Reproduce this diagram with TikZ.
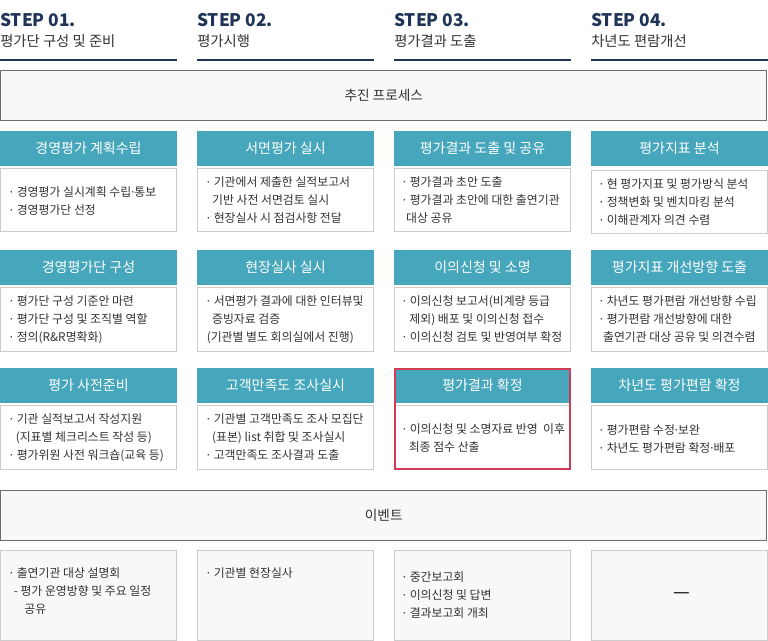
\documentclass[tikz,border=0pt]{standalone}
\usepackage{fontspec}
\setmainfont{Noto Sans CJK KR}
\newfontfamily\latf{Noto Sans}
\definecolor{navy}{HTML}{1F3457}
\definecolor{hdteal}{HTML}{45A6BC}
\definecolor{txt}{HTML}{333333}
\definecolor{boxgray}{HTML}{6E6E6E}
\definecolor{boxfill}{HTML}{F8F8F8}
\definecolor{bodyline}{HTML}{CCCCCC}
\definecolor{hlred}{HTML}{D13B53}
\newcommand\bu{\makebox[5.25pt][l]{\latf ·}}
\newcommand\md{{\latf ·}}
\newcommand\ind[1]{\hspace*{#1pt}}
\begin{document}
\begin{tikzpicture}[x=0.75pt,y=-0.75pt,
  steptitle/.style={anchor=base west, inner sep=0pt, text=navy, font=\fontsize{13}{16}\selectfont\bfseries},
  stepsub/.style={anchor=base west, inner sep=0pt, text=txt, font=\fontsize{10.75}{12}\selectfont},
  stepline/.style={draw=navy, line width=1.5pt},
  bigbox/.style={draw=boxgray, fill=boxfill, line width=0.75pt, minimum width=574.5pt, text=txt, font=\fontsize{10.25}{12}\selectfont},
  hdr/.style={fill=hdteal, text=white, minimum width=132.75pt, minimum height=26.25pt, inner sep=0pt, font=\fontsize{10.5}{12}\selectfont},
  bodybox/.style={draw=bodyline, fill=white, line width=0.75pt, minimum width=132pt, inner sep=0pt},
  evbox/.style={draw=bodyline, fill=boxfill, line width=0.75pt, minimum width=132pt, minimum height=67.125pt, inner sep=0pt},
  btext/.style={anchor=west, align=left, inner sep=0pt, text=txt, font=\fontsize{8.9}{13.5}\selectfont},
  hl/.style={draw=hlred, line width=1.5pt}
]
\useasboundingbox (0,0) rectangle (768,641);

% step headings
\node[steptitle] (s1) at (0,26.5) {STEP 01.};
\node[steptitle] (s2) at (197,26.5) {STEP 02.};
\node[steptitle] (s3) at (394,26.5) {STEP 03.};
\node[steptitle] (s4) at (591,26.5) {STEP 04.};
\node[stepsub] (t1) at (0,47) {평가단 구성 및 준비};
\node[stepsub] (t2) at (197,47) {평가시행};
\node[stepsub] (t3) at (394,47) {평가결과 도출};
\node[stepsub] (t4) at (591,47) {차년도 편람개선};
\draw[stepline] (0,60) -- (177,60);
\draw[stepline] (197,60) -- (374,60);
\draw[stepline] (394,60) -- (571,60);
\draw[stepline] (591,60) -- (768,60);

% process box
\node[bigbox, minimum height=37.125pt] (proc) at (383.75,95.75) {추진 프로세스};

% headers
\node[hdr] (h11) at (88.5,148.5) {경영평가 계획수립};
\node[hdr] (h21) at (285.5,148.5) {서면평가 실시};
\node[hdr] (h31) at (482.5,148.5) {평가결과 도출 및 공유};
\node[hdr] (h41) at (679.5,148.5) {평가지표 분석};
\node[hdr] (h12) at (88.5,267.5) {경영평가단 구성};
\node[hdr] (h22) at (285.5,267.5) {현장실사 실시};
\node[hdr] (h32) at (482.5,267.5) {이의신청 및 소명};
\node[hdr] (h42) at (679.5,267.5) {평가지표 개선방향 도출};
\node[hdr] (h13) at (88.5,385.5) {평가 사전준비};
\node[hdr] (h23) at (285.5,385.5) {고객만족도 조사실시};
\node[hdr] (h33) at (482.5,385.5) {평가결과 확정};
\node[hdr] (h43) at (679.5,385.5) {차년도 평가편람 확정};

% bodies
\node[bodybox, minimum height=47.25pt] (b11) at (88.5,200.5) {};
\node[bodybox, minimum height=47.25pt] (b21) at (285.5,200.5) {};
\node[bodybox, minimum height=47.25pt] (b31) at (482.5,200.5) {};
\node[bodybox, minimum height=47.25pt] (b41) at (679.5,202.5) {};
\node[bodybox, minimum height=48pt] (b12) at (88.5,320) {};
\node[bodybox, minimum height=48pt] (b22) at (285.5,320) {};
\node[bodybox, minimum height=48pt] (b32) at (482.5,320) {};
\node[bodybox, minimum height=48pt] (b42) at (679.5,320) {};
\node[bodybox, minimum height=48pt] (b13) at (88.5,438) {};
\node[bodybox, minimum height=48pt] (b23) at (285.5,438) {};
\node[bodybox, minimum height=48pt] (b33) at (482.5,438) {};
\node[bodybox, minimum height=48pt] (b43) at (679.5,438) {};

\node[btext] (x11) at (9.5,201.5) {\bu 경영평가 실시계획 수립\md 통보\\\bu 경영평가단 선정};
\node[btext] (x21) at (206.5,200) {\bu 기관에서 제출한 실적보고서\\\ind{4}기반 사전 서면검토 실시\\\bu 현장실사 시 점검사항 전달};
\node[btext] (x31) at (402.5,200) {\bu 평가결과 초안 도출\\\bu 평가결과 초안에 대한 출연기관\\\ind{2.5}대상 공유};
\node[btext] (x41) at (599.5,202) {\bu 현 평가지표 및 평가방식 분석\\\bu 정책변화 및 벤치마킹 분석\\\bu 이해관계자 의견 수렴};
\node[btext] (x12) at (9.5,319.5) {\bu 평가단 구성 기준안 마련\\\bu 평가단 구성 및 조직별 역할\\\bu 정의(R\&R명확화)};
\node[btext] (x22) at (206.5,319.5) {\bu 서면평가 결과에 대한 인터뷰및\\\ind{4}증빙자료 검증\\(기관별 별도 회의실에서 진행)};
\node[btext] (x32) at (402.5,319.5) {\bu 이의신청 보고서(비계량 등급\\\ind{5}제외) 배포 및 이의신청 접수\\\bu 이의신청 검토 및 반영여부 확정};
\node[btext] (x42) at (599.5,319.5) {\bu 차년도 평가편람 개선방향 수립\\\bu 평가편람 개선방향에 대한\\\ind{2.5}출연기관 대상 공유 및 의견수렴};
\node[btext] (x13) at (9.5,437.5) {\bu 기관 실적보고서 작성지원\\\ind{4.5}(지표별 체크리스트 작성 등)\\\bu 평가위원 사전 워크숍(교육 등)};
\node[btext] (x23) at (206.5,437.5) {\bu 기관별 고객만족도 조사 모집단\\\ind{4}(표본) list 취합 및 조사실시\\\bu 고객만족도 조사결과 도출};
\node[btext] (x33) at (402.5,438.5) {\bu 이의신청 및 소명자료 반영\ \ 이후\\\ind{4.5}최종 점수 산출};
\node[btext] (x43) at (599.5,439) {\bu 평가편람 수정\md 보완\\\bu 차년도 평가편람 확정\md 배포};

% highlight
\draw[hl] (395,369) rectangle (570,469);

% events
\node[bigbox, minimum height=37.5pt] (ev) at (383.75,515.5) {이벤트};
\node[evbox] (e1) at (88.5,595.75) {};
\node[evbox] (e2) at (285.5,595.75) {};
\node[evbox] (e3) at (482.5,595.75) {};
\node[evbox] (e4) at (679.5,595.75) {};
\node[btext] (y1) at (9.5,591.5) {\bu 출연기관 대상 설명회\\\ind{3}- 평가 운영방향 및 주요 일정\\\ind{11}공유};
\node[btext] (y2) at (206.5,573) {\bu 기관별 현장실사};
\node[btext] (y3) at (402.5,595.5) {\bu 중간보고회\\\bu 이의신청 및 답변\\\bu 결과보고회 개최};
\node[inner sep=0pt, text=black, font=\fontsize{14}{16}\selectfont] (y4) at (682,596) {—};
\end{tikzpicture}
\end{document}
